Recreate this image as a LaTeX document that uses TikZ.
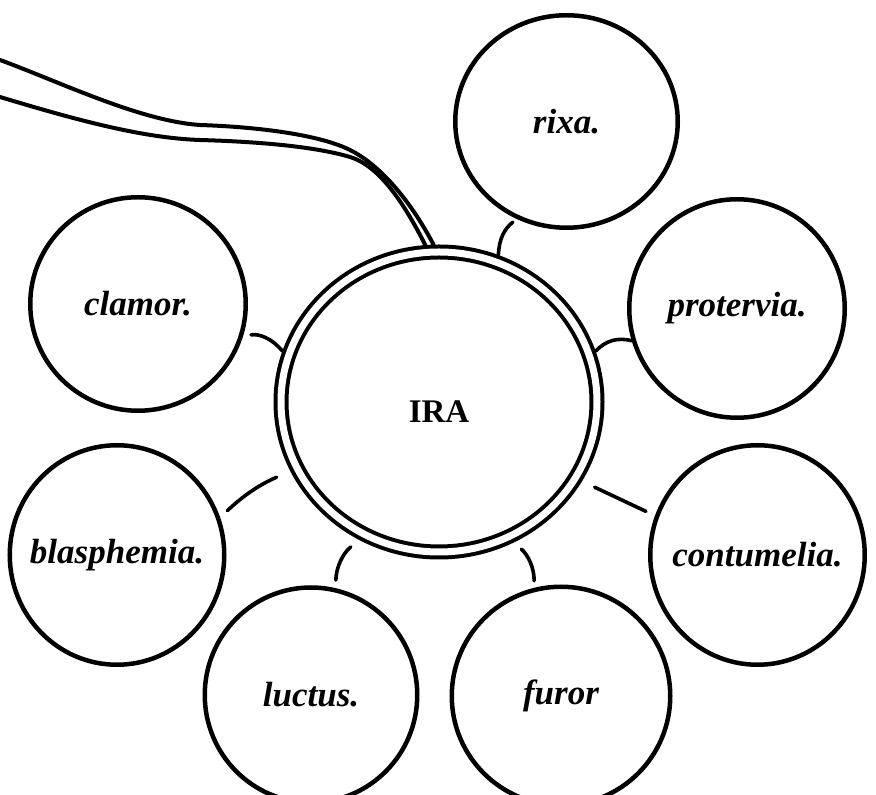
\documentclass[tikz,border=0pt]{standalone}
\usepackage{fontspec}
\setmainfont{Liberation Serif}
\usetikzlibrary{shapes.geometric}
\tikzset{
  sat/.style={ellipse, draw, line width=4.5pt, inner ysep=0pt, inner xsep=-45pt,
    font=\fontsize{35}{40}\selectfont\bfseries\itshape},
  link/.style={line width=3.6pt, line cap=round},
  stalkline/.style={line width=4pt, line cap=round}
}
\begin{document}
\begin{tikzpicture}[x=1pt,y=1pt]
\useasboundingbox (0,0) rectangle (876,795);
% central double ring
\node[ellipse, draw, double, double distance=7pt, line width=4pt,
      minimum width=316pt, minimum height=300pt, inner sep=0pt, outer sep=7.5pt,
      font=\fontsize{33}{36}\selectfont\bfseries, text height=42pt, text depth=0pt]
      (ira) at (439,393) {IRA};
% satellites
\node[sat, minimum width=222.5pt, minimum height=212.5pt] (rixa) at (566.5,673.5) {rixa.};
\node[sat, minimum width=215.5pt, minimum height=218.5pt] (protervia) at (737,486.5) {protervia.};
\node[sat, minimum width=214.5pt, minimum height=219.5pt] (contumelia) at (757.5,240) {contumelia.};
\node[sat, minimum width=218.5pt, minimum height=218.5pt] (furor) at (561,99) {furor};
\node[sat, minimum width=212.5pt, minimum height=215pt] (luctus) at (311,100) {luctus.};
\node[sat, minimum width=214.5pt, minimum height=219.5pt] (blasphemia) at (117,240) {blasphemia.};
\node[sat, minimum width=215.5pt, minimum height=213.5pt] (clamor) at (138,491) {clamor.};
% connectors
\draw[link, shorten >=5pt] (ira.68) to[bend left=25] (rixa.243);
\draw[link] (ira.18) to[bend left=30] (protervia.197);
\draw[link, shorten <=14pt, shorten >=10pt] (ira.-29) -- (contumelia.159);
\draw[link, shorten <=10pt, shorten >=7pt] (ira.-62) to[bend left=25] (furor.104);
\draw[link, shorten <=11pt, shorten >=8pt] (ira.-120) to[bend right=25] (luctus.77);
\draw[link, shorten <=15pt, shorten >=10pt] (ira.205) to[bend right=10] (blasphemia.20);
\draw[link, shorten >=8pt] (ira.162) to[bend right=30] (clamor.-17);
% stalk
\coordinate (stalkU) at (0,735);
\coordinate (stalkL) at (0,698);
\draw[stalkline] (stalkU) .. controls (60,713) and (140,674) .. (200,670)
  .. controls (260,668) and (320,660) .. (350,645)
  .. controls (380,630) and (410,595) .. (ira.92);
\draw[stalkline] (stalkL) .. controls (70,677) and (140,657) .. (200,655)
  .. controls (270,653) and (320,647) .. (350,638)
  .. controls (380,629) and (405,590) .. (ira.95);
\end{tikzpicture}
\end{document}
